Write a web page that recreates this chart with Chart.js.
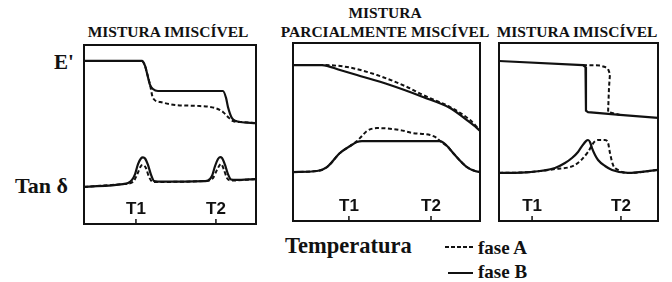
<!DOCTYPE html>
<html>
<head>
<meta charset="utf-8">
<script src="https://cdn.jsdelivr.net/npm/chart.js@4.4.1/dist/chart.umd.min.js"></script>
<style>
  body { margin: 0; width: 672px; height: 282px; background: #fff; position: relative; overflow: hidden; }
  .t { position: absolute; font-family: "Liberation Serif", "DejaVu Serif", serif; font-weight: bold; color: #111; white-space: nowrap; line-height: 1; }
  .ttl { font-size: 15.5px; text-align: center; }
  canvas { position: absolute; }
  .dash { position: absolute; height: 2px; background: repeating-linear-gradient(to right, #111 0 4px, transparent 4px 6px); }
  .solid { position: absolute; height: 2px; background: #111; }
</style>
</head>
<body>
<div class="t ttl" style="left:78px; top:24px; width:180px;">MISTURA IMISCÍVEL</div>
<div class="t ttl" style="left:270px; top:5px; width:230px;">MISTURA</div>
<div class="t ttl" style="left:270px; top:24px; width:230px;">PARCIALMENTE MISCÍVEL</div>
<div class="t ttl" style="left:489px; top:24px; width:176px;">MISTURA IMISCÍVEL</div>
<div class="t" style="left:54px; top:52px; font-size:21px;">E'</div>
<div class="t" style="left:15px; top:175px; font-size:22px;">Tan δ</div>
<div class="t" style="left:285px; top:235px; font-size:22.5px;">Temperatura</div>
<div class="dash" style="left:445px; top:246px; width:28px;"></div>
<div class="t" style="left:478px; top:238px; font-size:19px;">fase A</div>
<div class="solid" style="left:448px; top:272px; width:25px;"></div>
<div class="t" style="left:478px; top:262px; font-size:19px;">fase B</div>

<canvas id="c1" width="176" height="183" style="left:82px; top:43px;"></canvas>
<canvas id="c2" width="191" height="182" style="left:291px; top:41px;"></canvas>
<canvas id="c3" width="163" height="182" style="left:497px; top:41px;"></canvas>

<script>
// temperature axis positions of T1 / T2 for each panel
const tickLabels = ['T1', 'T2'];
const p1Ticks = [30.2, 76.7];
const p2Ticks = [29.9, 73.8];
const p3Ticks = [20.8, 76.7];

// panel 1 - mistura imiscível
const p1_E_faseB = [[0,91.1],[33.7,91.1],[35.5,88.3],[36.6,84.4],[38.4,77.7],[40.1,75.4],[43,74.3],[80.8,74.3],[82.6,70.4],[83.7,65.4],[86,59.2],[88.4,57.5],[90.7,57],[100,56.4]];
const p1_E_faseA = [[0,91.1],[33.7,91.1],[35.5,88.3],[36.6,84.4],[38.4,77.7],[40.1,70.4],[44.2,68.2],[52.9,66.5],[67.4,65.9],[76.2,64.8],[80.8,62.6],[83.7,59.8],[86.6,57.5],[90.7,57],[100,56.4]];
const p1_tan_faseB = [[0,20.7],[22.7,22.3],[25.6,22.9],[27.9,24.6],[29.7,27.9],[31.4,33.5],[33.1,36.6],[34.3,37.2],[35.5,36.6],[37.2,33],[39,27.4],[40.7,24],[43,23.7],[70.3,24],[72.1,24.3],[74.4,26.8],[76.2,32.4],[77.9,36.3],[79.1,37.4],[80.2,36.9],[82,33],[83.7,27.9],[85.5,24.9],[88,24.6],[100,25.1]];
const p1_tan_faseA = [[0,20.7],[22.7,22.3],[28.5,23.5],[30.8,27.4],[33.1,32.4],[34.3,33],[36,31.3],[37.8,26.3],[40.1,23.5],[70.3,24],[75,25.7],[77.3,30.2],[79.7,33.5],[81.4,30.2],[83.1,25.7],[85.5,24.3],[100,25.1]];

// panel 2 - mistura parcialmente miscível
const p2_E_faseB = [[0,87.6],[15.5,87.6],[25.1,84.8],[34.2,82],[51.9,76.4],[69.5,69.7],[84,63.5],[93,56.7],[98.4,52.2],[100,50.6]];
const p2_E_faseA = [[0,87.6],[15.5,87.6],[28.9,86.5],[44.9,82],[61,75.3],[69.5,70.8],[84,64],[94.7,56.7],[98.4,52.8],[100,51.1]];
const p2_tan_faseB = [[0,27.5],[12.8,28.1],[18.2,30.3],[25.1,38.2],[30.5,42.1],[34.2,44.4],[36.9,44.9],[78.6,44.9],[82.4,42.1],[85.6,38.2],[93,30.3],[97.3,28.1],[100,27.5]];
const p2_tan_faseA = [[0,27.5],[12.8,28.1],[18.2,30.3],[25.1,38.2],[30.5,42.1],[34.2,44.9],[36.9,47.8],[39.6,50.6],[44.9,52.2],[57.2,51.1],[64.2,49.4],[73.3,48.3],[77,46.6],[78.6,44.9],[82.4,42.1],[85.6,38.2],[93,30.3],[97.3,28.1],[100,27.5]];

// panel 3 - mistura imiscível
const p3_E_faseB = [[0,89.9],[52.8,87.6],[54.4,86.5],[54.7,80],[54.7,62],[56,61.2],[76.1,59.6],[100,57.9]];
const p3_E_faseA = [[52.8,87.6],[63.5,87.4],[66.7,86.5],[68.6,85.4],[69.8,82.6],[69.2,75.3],[68.6,61.2],[71.1,60.7],[76.1,59.6]];
const p3_tan_faseB = [[0,27],[19.5,27.5],[35.2,29.8],[41.5,32.6],[45.9,35.4],[49.7,38.8],[52.2,42.1],[54.7,44.9],[56,45.5],[57.2,44.4],[58.5,41],[60.4,37.1],[62.3,34.3],[66.7,30.9],[71.1,28.7],[81.1,27],[100,28.7]];
const p3_tan_faseA = [[0,27],[19.5,27.5],[35.2,29.2],[47.8,31.5],[56,38.8],[58.5,42.7],[60.4,44.9],[62.3,45.5],[66.7,45.5],[68.6,43.8],[69.8,38.2],[71.7,31.5],[74.8,28.7],[77.4,27.5],[81.1,27],[100,28.7]];

const boxPlugin = {
  id: 'box',
  afterDraw(chart) {
    const ctx = chart.ctx, a = chart.chartArea, x = chart.scales.x;
    const ticks = chart.options.plugins.box.ticks;
    ctx.save();
    ctx.strokeStyle = '#111';
    ctx.lineWidth = 2;
    ctx.strokeRect(a.left, a.top, a.right - a.left, a.bottom - a.top);
    ctx.lineWidth = 1.5;
    ctx.fillStyle = '#111';
    ctx.font = 'bold 17px "Liberation Sans", Arial, sans-serif';
    ctx.textAlign = 'center';
    ctx.textBaseline = 'middle';
    ticks.forEach((v, i) => {
      const px = x.getPixelForValue(v);
      ctx.beginPath();
      ctx.moveTo(px, a.bottom);
      ctx.lineTo(px, a.bottom - 5);
      ctx.stroke();
      ctx.fillText(tickLabels[i], px, a.bottom - 15);
    });
    ctx.restore();
  }
};

function line(pts, dashed, smooth) {
  return {
    data: pts.map(p => ({ x: p[0], y: p[1] })),
    borderColor: '#111',
    borderWidth: dashed ? 2 : 2.2,
    borderDash: dashed ? [4, 2.5] : [],
    pointRadius: 0,
    fill: false,
    cubicInterpolationMode: smooth ? 'monotone' : 'default',
    tension: 0
  };
}

function panel(id, ticks, sets) {
  new Chart(document.getElementById(id), {
    type: 'line',
    data: { datasets: sets },
    options: {
      responsive: false,
      animation: false,
      events: [],
      layout: { padding: 2 },
      scales: {
        x: { type: 'linear', min: 0, max: 100, display: false },
        y: { type: 'linear', min: 0, max: 100, display: false }
      },
      plugins: { legend: { display: false }, tooltip: { enabled: false }, box: { ticks: ticks } }
    },
    plugins: [boxPlugin]
  });
}

panel('c1', p1Ticks, [
  line(p1_E_faseB, false, true), line(p1_E_faseA, true, true),
  line(p1_tan_faseB, false, true), line(p1_tan_faseA, true, true)
]);
panel('c2', p2Ticks, [
  line(p2_E_faseB, false, true), line(p2_E_faseA, true, true),
  line(p2_tan_faseB, false, true), line(p2_tan_faseA, true, true)
]);
panel('c3', p3Ticks, [
  line(p3_E_faseB, false, false), line(p3_E_faseA, true, false),
  line(p3_tan_faseB, false, true), line(p3_tan_faseA, true, true)
]);
</script>
</body>
</html>
